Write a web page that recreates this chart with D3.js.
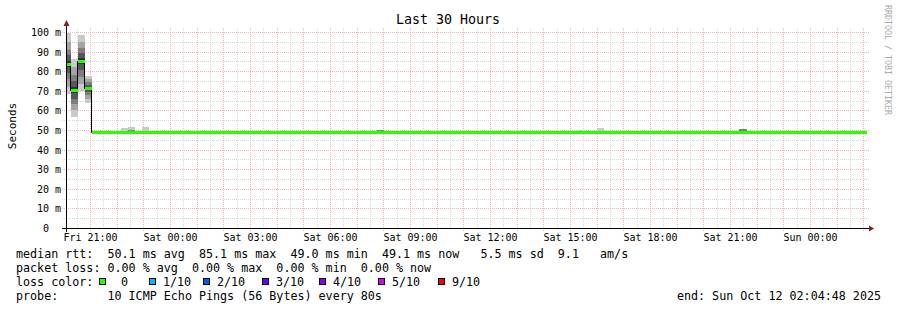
<!DOCTYPE html>
<html>
<head>
<meta charset="utf-8">
<script src="https://cdn.jsdelivr.net/npm/d3@7"></script>
<style>
  body { margin: 0; background: #fff; }
  text { font-family: "DejaVu Sans Mono", monospace; white-space: pre; }
</style>
</head>
<body>
<svg id="chart" width="897" height="310"></svg>
<script>
// time window of the graph (last 30 hours)
var start = new Date(2025, 9, 10, 20, 4, 48),
    end = new Date(2025, 9, 12, 2, 4, 48),
    firstSample = new Date(2025, 9, 10, 19, 58, 54),
    stepMinutes = 16;

// median rtt (ms) per consolidated step
var medians = [
  83.5, 70.4, 85.1, 71.3,
  49.1, 49.0, 49.1, 49.1, 49.1, 49.1, 49.1, 49.1, 49.1, 49.0,
  49.0, 49.1, 49.0, 49.0, 49.1, 49.0, 49.1, 49.0, 49.0, 49.1,
  49.0, 49.0, 49.1, 49.0, 49.1, 49.1, 49.0, 49.0, 49.1, 49.0,
  49.1, 49.0, 49.0, 49.1, 49.0, 49.0, 49.1, 49.0, 49.1, 49.0,
  49.1, 49.1, 49.0, 49.0, 49.1, 49.0, 49.0, 49.1, 49.0, 49.0,
  49.1, 49.0, 49.1, 49.0, 49.0, 49.1, 49.0, 49.0, 49.1, 49.0,
  49.0, 49.1, 49.0, 49.0, 49.1, 49.0, 49.0, 49.1, 49.1, 49.0,
  49.0, 49.1, 49.1, 49.0, 49.0, 49.1, 49.0, 49.0, 49.1, 49.0,
  49.1, 49.0, 49.0, 49.1, 49.0, 49.0, 49.1, 49.0, 49.0, 49.1,
  49.0, 49.1, 49.1, 49.0, 49.0, 49.1, 49.0, 49.1, 49.0, 49.0,
  49.1, 49.0, 49.0, 49.1, 49.0, 49.0, 49.1, 49.0, 49.1
];

// all 10 sorted pings for the first (noisy) steps
var earlyPings = [
  [68.2, 72.0, 76.0, 79.0, 82.0, 85.0, 88.0, 91.0, 95.0, 99.3],
  [56.8, 60.0, 63.0, 66.0, 69.0, 72.0, 75.0, 78.0, 82.0, 86.0],
  [70.0, 73.5, 77.0, 80.5, 83.5, 86.5, 89.0, 92.0, 95.0, 98.5],
  [63.9, 66.0, 68.0, 69.5, 70.8, 71.8, 73.0, 74.5, 76.0, 77.6]
];

// highest ping and 8th ping of the later steps
var topPing = [
  null, null, null, null,
  49.6, 49.5, 49.6, 49.7, 51.0, 51.5, 49.6, 51.5, 49.6, 49.5,
  49.5, 49.6, 49.6, 49.5, 49.6, 49.7, 49.5, 49.6, 49.5, 49.6,
  49.6, 49.5, 49.6, 49.6, 49.5, 49.6, 49.7, 49.5, 49.6, 49.5,
  49.6, 49.5, 49.6, 49.6, 49.5, 49.6, 49.5, 49.6, 49.6, 49.5,
  50.1, 49.6, 49.5, 49.6, 49.6, 49.5, 49.6, 49.5, 49.6, 49.6,
  49.5, 49.6, 49.6, 49.5, 49.6, 49.5, 49.6, 49.6, 49.5, 49.6,
  49.6, 49.5, 49.6, 49.6, 49.5, 49.6, 49.5, 49.6, 50.0, 49.6,
  49.5, 51.0, 49.6, 49.5, 49.6, 49.6, 49.5, 49.6, 49.5, 49.6,
  49.6, 49.5, 49.6, 49.5, 49.6, 49.6, 49.5, 49.6, 49.5, 49.6,
  49.6, 50.6, 49.5, 49.6, 49.5, 49.6, 49.6, 49.5, 49.6, 49.5,
  49.6, 49.5, 49.6, 49.6, 49.5, 49.6, 49.5, 49.6, 49.6
];
var midPing = [
  null, null, null, null,
  49.3, 49.2, 49.3, 49.3, 49.6, 50.0, 49.3, 49.4, 49.3, 49.2,
  49.2, 49.3, 49.2, 49.2, 49.3, 49.3, 49.2, 49.3, 49.2, 49.3,
  49.2, 49.2, 49.3, 49.2, 49.3, 49.3, 49.3, 49.2, 49.3, 49.2,
  49.3, 49.2, 49.2, 49.3, 49.2, 49.2, 49.3, 49.2, 49.3, 49.2,
  49.9, 49.3, 49.2, 49.2, 49.3, 49.2, 49.2, 49.3, 49.2, 49.2,
  49.3, 49.2, 49.3, 49.2, 49.2, 49.3, 49.2, 49.2, 49.3, 49.2,
  49.2, 49.3, 49.2, 49.2, 49.3, 49.2, 49.2, 49.3, 49.4, 49.2,
  49.2, 49.5, 49.3, 49.2, 49.2, 49.3, 49.2, 49.2, 49.3, 49.2,
  49.3, 49.2, 49.2, 49.3, 49.2, 49.2, 49.3, 49.2, 49.2, 49.3,
  49.2, 50.4, 49.3, 49.2, 49.2, 49.3, 49.2, 49.3, 49.2, 49.2,
  49.3, 49.2, 49.2, 49.3, 49.2, 49.2, 49.3, 49.2, 49.3
];

var lossLabels = ["0", "1/10", "2/10", "3/10", "4/10", "5/10", "9/10"];
var lossColors = ["#26ff00", "#00b8ff", "#0059ff", "#5e00ff", "#7e00ff", "#dd00ff", "#ff0000"];

var legendLines = [
  "median rtt:  50.1 ms avg  85.1 ms max  49.0 ms min  49.1 ms now   5.5 ms sd  9.1   am/s",
  "packet loss: 0.00 % avg  0.00 % max  0.00 % min  0.00 % now",
  "loss color:",
  "probe:       10 ICMP Echo Pings (56 Bytes) every 80s"
];
var endLabel = "end: Sun Oct 12 02:04:48 2025";

var svg = d3.select("#chart");

var x = d3.scaleTime().domain([start, end]).range([66.5, 866.5]);
var y = d3.scaleLinear().domain([0, 102]).range([228, 28]);

function px(v) { return Math.round(v) - 0.5; }
function py(v) { return Math.round(v) + 0.5; }

svg.append("defs").append("clipPath").attr("id", "plot")
  .append("rect").attr("x", 67).attr("y", 28).attr("width", 800).attr("height", 200);

// grid
var grid = svg.append("g").attr("fill", "none").attr("stroke-width", 1).attr("stroke-dasharray", "1,1");

grid.selectAll(".hminor")
    .data(d3.range(5, 101, 10))
  .enter().append("line")
    .attr("x1", 62).attr("x2", 869)
    .attr("y1", function(d) { return py(y(d)); })
    .attr("y2", function(d) { return py(y(d)); })
    .attr("stroke", "#d6d6d6");

grid.selectAll(".vminor")
    .data(d3.timeMinute.every(30).range(start, end).filter(function(d) { return d.getMinutes() === 30; }))
  .enter().append("line")
    .attr("x1", function(d) { return px(x(d)); })
    .attr("x2", function(d) { return px(x(d)); })
    .attr("y1", 28).attr("y2", 228)
    .attr("stroke", "#d6d6d6");

grid.selectAll(".hmajor")
    .data(d3.range(10, 101, 10))
  .enter().append("line")
    .attr("x1", 62).attr("x2", 869)
    .attr("y1", function(d) { return py(y(d)); })
    .attr("y2", function(d) { return py(y(d)); })
    .attr("stroke", "#f4b4b4");

grid.selectAll(".vmajor")
    .data(d3.timeHour.range(start, end))
  .enter().append("line")
    .attr("x1", function(d) { return px(x(d)); })
    .attr("x2", function(d) { return px(x(d)); })
    .attr("y1", 28).attr("y2", 231)
    .attr("stroke", "#f4b4b4");

// smoke
var shades = ["#cacaca", "#a4a4a4", "#7e7e7e", "#585858", "#323232"];
function colTime(i) { return d3.timeMinute.offset(firstSample, i * stepMinutes); }

var smoke = svg.append("g").attr("clip-path", "url(#plot)").attr("shape-rendering", "crispEdges");

medians.forEach(function(m, i) {
  var x0 = Math.round(x(colTime(i))), x1 = Math.round(x(colTime(i + 1)));
  var bands = [];
  if (i < earlyPings.length) {
    var p = earlyPings[i];
    for (var k = 0; k < 5; k++) bands.push([p[k], p[9 - k], shades[k]]);
  } else {
    bands.push([m, topPing[i], shades[0]]);
    bands.push([m, midPing[i], shades[2]]);
  }
  bands.forEach(function(b) {
    var ya = Math.round(y(b[1])), yb = Math.round(y(b[0]));
    smoke.append("rect")
      .attr("x", x0).attr("width", x1 - x0)
      .attr("y", ya).attr("height", Math.max(0, yb - ya))
      .attr("fill", b[2]);
  });
});

// median line
var steps = medians.map(function(m, i) { return [colTime(i), m]; });
steps.push([colTime(medians.length), medians[medians.length - 1]]);

var plot = svg.append("g").attr("clip-path", "url(#plot)");

plot.append("path")
    .datum(steps)
    .attr("fill", "none")
    .attr("stroke", "#000")
    .attr("stroke-width", 1)
    .attr("d", d3.line()
      .curve(d3.curveStepAfter)
      .x(function(d) { return Math.round(x(d[0])) - 0.5; })
      .y(function(d) { return Math.round(y(d[1])) + 0.5; }));

// loss is 0 for every step -> first loss colour
plot.selectAll(".median")
    .data(medians)
  .enter().append("line")
    .attr("x1", function(d, i) { return Math.round(x(colTime(i))); })
    .attr("x2", function(d, i) { return Math.round(x(colTime(i + 1))); })
    .attr("y1", function(d) { return Math.round(y(d)) + 0.5; })
    .attr("y2", function(d) { return Math.round(y(d)) + 0.5; })
    .attr("stroke", lossColors[0])
    .attr("stroke-width", 3);

// axes
svg.append("line").attr("x1", 62).attr("x2", 869).attr("y1", 228.5).attr("y2", 228.5).attr("stroke", "#000");
svg.append("line").attr("x1", 66.5).attr("x2", 66.5).attr("y1", 232).attr("y2", 25).attr("stroke", "#000");
svg.append("path").attr("d", "M869,225.5L874,228.5L869,231.5Z").attr("fill", "#8b1a1a");
svg.append("path").attr("d", "M63.5,26L66.5,20L69.5,26Z").attr("fill", "#8b1a1a");

// tick labels
svg.selectAll(".ylab")
    .data(d3.range(0, 101, 10))
  .enter().append("text")
    .attr("x", function(d) { return d === 0 ? 49 : 61; })
    .attr("y", function(d) { return py(y(d)) + 3.5; })
    .attr("text-anchor", "end")
    .attr("font-size", "10px")
    .text(function(d) { return d === 0 ? "0" : d + " m"; });

svg.selectAll(".xlab")
    .data(d3.timeHour.every(3).range(start, end))
  .enter().append("text")
    .attr("x", function(d) { return px(x(d)); })
    .attr("y", 241)
    .attr("text-anchor", "middle")
    .attr("font-size", "10px")
    .text(d3.timeFormat("%a %H:%M"));

// title and side labels
svg.append("text")
    .attr("x", 448).attr("y", 24)
    .attr("text-anchor", "middle")
    .attr("font-size", "13.3px")
    .text("Last 30 Hours");

svg.append("text")
    .attr("transform", "translate(15.5,126) rotate(-90)")
    .attr("text-anchor", "middle")
    .attr("font-size", "11px")
    .text("Seconds");

svg.append("text")
    .attr("transform", "translate(885,5) rotate(90)")
    .attr("font-size", "8.3px")
    .attr("fill", "#aaaaaa")
    .text("RRDTOOL / TOBI OETIKER");

// legend
svg.selectAll(".leg")
    .data(legendLines)
  .enter().append("text")
    .attr("x", 16)
    .attr("y", function(d, i) { return 258 + i * 14; })
    .attr("font-size", "11.7px")
    .text(function(d) { return d; });

var boxX = [99, 149, 203, 262, 319, 378, 438];
var items = svg.selectAll(".lossitem")
    .data(lossLabels)
  .enter().append("g")
    .attr("transform", function(d, i) { return "translate(" + boxX[i] + ",0)"; });

items.append("rect")
    .attr("x", 0.5).attr("y", 278.5)
    .attr("width", 6).attr("height", 6)
    .attr("fill", function(d, i) { return lossColors[i]; })
    .attr("stroke", "#000");

items.append("text")
    .attr("x", function(d, i) { return i === 0 ? 22 : 14; })
    .attr("y", 286)
    .attr("font-size", "11.7px")
    .text(function(d) { return d; });

svg.append("text")
    .attr("x", 881).attr("y", 300)
    .attr("text-anchor", "end")
    .attr("font-size", "11.7px")
    .text(endLabel);
</script>
</body>
</html>
